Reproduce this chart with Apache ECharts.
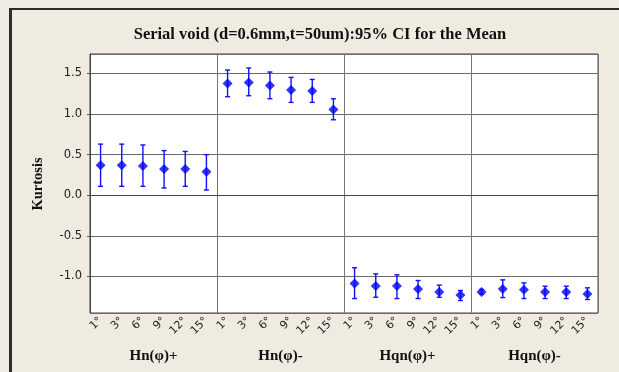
<!DOCTYPE html>
<html>
<head>
<meta charset="utf-8">
<script src="https://cdn.jsdelivr.net/npm/echarts@6/dist/echarts.min.js"></script>
<style>
  html, body { margin: 0; padding: 0; background: #efebe1; }
  #chart { width: 619px; height: 372px; }
</style>
</head>
<body>
<div id="chart"></div>
<script>
// Angle levels within each group, and the four groups
const angles = ['1°', '3°', '6°', '9°', '12°', '15°'];
const groups = ['Hn(φ)+', 'Hn(φ)-', 'Hqn(φ)+', 'Hqn(φ)-'];

// Mean kurtosis and 95% CI bounds, six angles per group
const meanHnPlus   = [0.37, 0.37, 0.36, 0.325, 0.325, 0.29];
const lowerHnPlus  = [0.11, 0.11, 0.11, 0.09, 0.11, 0.065];
const upperHnPlus  = [0.63, 0.63, 0.62, 0.55, 0.54, 0.50];

const meanHnMinus  = [1.378, 1.39, 1.353, 1.296, 1.284, 1.057];
const lowerHnMinus = [1.214, 1.226, 1.189, 1.144, 1.144, 0.93];
const upperHnMinus = [1.543, 1.568, 1.518, 1.452, 1.427, 1.189];

const meanHqnPlus  = [-1.086, -1.116, -1.116, -1.153, -1.19, -1.227];
const lowerHqnPlus = [-1.272, -1.256, -1.272, -1.272, -1.256, -1.296];
const upperHqnPlus = [-0.893, -0.968, -0.98, -1.05, -1.107, -1.173];

const meanHqnMinus  = [-1.19, -1.153, -1.165, -1.19, -1.19, -1.215];
const lowerHqnMinus = [-1.22, -1.26, -1.272, -1.272, -1.272, -1.284];
const upperHqnMinus = [-1.16, -1.042, -1.079, -1.12, -1.12, -1.14];

const yTicks = [-1.0, -0.5, 0.0, 0.5, 1.0, 1.5];

// Flatten into one row per (group, angle)
const categories = [];
const means = [], lowers = [], uppers = [];
const groupData = [
  [meanHnPlus, lowerHnPlus, upperHnPlus],
  [meanHnMinus, lowerHnMinus, upperHnMinus],
  [meanHqnPlus, lowerHqnPlus, upperHqnPlus],
  [meanHqnMinus, lowerHqnMinus, upperHqnMinus]
];
groupData.forEach(function (g, gi) {
  angles.forEach(function (a, ai) {
    categories.push(gi + '|' + a);
    means.push(g[0][ai]);
    lowers.push(g[1][ai]);
    uppers.push(g[2][ai]);
  });
});

const chart = echarts.init(document.getElementById('chart'), null, { renderer: 'canvas' });

chart.setOption({
  backgroundColor: '#efebe1',
  animation: false,
  grid: {
    left: 90, top: 54, right: 21, bottom: 59,
    show: true, backgroundColor: '#ffffff', borderColor: '#444', borderWidth: 1
  },
  xAxis: [
    {
      type: 'category',
      data: categories,
      boundaryGap: true,
      axisLine: { lineStyle: { color: '#444' } },
      axisTick: { alignWithLabel: true, length: 3, lineStyle: { color: '#555' } },
      axisLabel: {
        rotate: 45, margin: 6, fontSize: 11, color: '#222',
        fontFamily: 'DejaVu Sans', interval: 0,
        formatter: function (v) { return v.split('|')[1]; }
      },
      splitLine: { show: false }
    },
    {
      type: 'category',
      data: groups,
      position: 'bottom',
      boundaryGap: true,
      axisLine: { show: false },
      axisTick: { show: false },
      axisLabel: {
        margin: 36, fontSize: 15, interval: 0, color: '#111',
        fontFamily: 'Liberation Serif', fontWeight: 'bold'
      },
      splitLine: { show: true, interval: 0, lineStyle: { color: '#777', width: 1 } }
    }
  ],
  yAxis: {
    type: 'value',
    min: -1.45, max: 1.74,
    axisLine: { show: true, lineStyle: { color: '#444' } },
    axisTick: { show: true, length: 3, lineStyle: { color: '#555' } },
    axisLabel: {
      showMinLabel: false, showMaxLabel: false,
      margin: 8, fontSize: 11.5, color: '#222', fontFamily: 'DejaVu Sans',
      formatter: function (v) {
        return yTicks.some(function (t) { return Math.abs(t - v) < 1e-6; }) ? v.toFixed(1) : '';
      }
    },
    splitLine: { show: true, lineStyle: { color: '#6a6a6a', width: 1 } }
  },
  graphic: [
    {
      type: 'rect', silent: true, z: -1,
      shape: { x: 10, y: 9, width: 700, height: 500 },
      style: { fill: null, stroke: '#2b2b2b', lineWidth: 2 }
    },
    {
      type: 'line', silent: true,
      shape: { x1: 10.5, y1: 9, x2: 10.5, y2: 372 },
      style: { stroke: '#2b2b2b', lineWidth: 3 }
    },
    {
      type: 'text', x: 320, y: 35,
      style: {
        text: 'Serial void (d=0.6mm,t=50um):95% CI for the Mean',
        fontSize: 16.5, fontWeight: 'bold', fontFamily: 'Liberation Serif',
        fill: '#111', align: 'center', verticalAlign: 'middle'
      }
    },
    {
      type: 'text', x: 38, y: 184, rotation: Math.PI / 2,
      style: {
        text: 'Kurtosis', fontSize: 14.5, fill: '#111',
        fontFamily: 'Liberation Serif', fontWeight: 'bold',
        align: 'center', verticalAlign: 'middle'
      }
    }
  ],
  series: [
    {
      type: 'custom',
      xAxisIndex: 0,
      z: 2,
      data: categories.map(function (c, i) { return [i, lowers[i], uppers[i]]; }),
      renderItem: function (params, api) {
        const x = api.coord([api.value(0), 0])[0];
        const lo = api.coord([api.value(0), api.value(1)])[1];
        const hi = api.coord([api.value(0), api.value(2)])[1];
        const cap = 2.5;
        const st = { stroke: '#1010ff', lineWidth: 1.4 };
        return {
          type: 'group',
          children: [
            { type: 'line', shape: { x1: x, y1: lo, x2: x, y2: hi }, style: st },
            { type: 'line', shape: { x1: x - cap, y1: hi, x2: x + cap, y2: hi }, style: st },
            { type: 'line', shape: { x1: x - cap, y1: lo, x2: x + cap, y2: lo }, style: st }
          ]
        };
      }
    },
    {
      type: 'scatter',
      xAxisIndex: 0,
      z: 3,
      symbol: 'diamond',
      symbolSize: 10,
      itemStyle: { color: '#0000ff' },
      data: means
    }
  ]
});
</script>
</body>
</html>
